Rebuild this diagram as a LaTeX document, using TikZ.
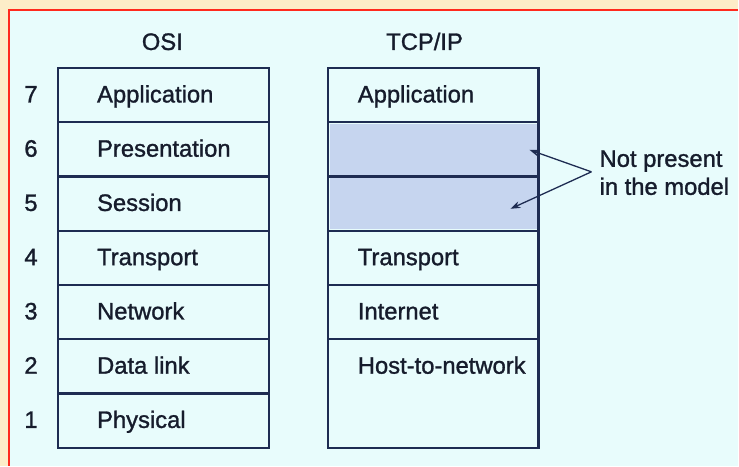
\documentclass[tikz,border=0pt]{standalone}
\usepackage{fontspec}
\setmainfont{Liberation Sans}
\newfontfamily\diagfont{Liberation Sans}[FakeBold=1.2]
\usetikzlibrary{calc,arrows.meta}
\definecolor{cream}{HTML}{FDEDC8}
\definecolor{panel}{HTML}{E8FCFC}
\definecolor{frame}{HTML}{FF2A1E}
\definecolor{ink}{HTML}{161C2C}
\definecolor{rule}{HTML}{1E2C52}
\definecolor{absent}{HTML}{C6D5EF}
\begin{document}
\begin{tikzpicture}[x=1pt,y=-1pt,
  cell/.style={draw=rule,line width=2.2pt,minimum width=211pt,minimum height=54.3pt,inner sep=0pt,anchor=north west},
  txt/.style={font=\diagfont\fontsize{23.8}{28}\selectfont,text=ink,inner sep=0pt},
  lbl/.style={txt,anchor=base west},
  pointer/.style={draw=rule,line width=1.3pt,-{Stealth[length=10pt,width=7pt]}}]
  % page and panel
  \fill[cream] (0,0) rectangle (739,466);
  \fill[panel] (9,10) rectangle (739,466);
  \draw[frame,line width=1.5pt] (9,466) -- (9,10) -- (739,10);
  \useasboundingbox (0,0) rectangle (739,466);

  % column titles
  \node[txt,anchor=base] (osititle) at (162.5,50) {OSI};
  \node[txt,anchor=base] (tcptitle) at (425,50) {TCP/IP};

  % OSI stack with layer numbers
  \foreach \n/\name [count=\i from 0] in {7/Application,6/Presentation,5/Session,4/Transport,3/Network,2/Data link,1/Physical}{
    \node[cell] (o\n) at (57,67+54.3*\i) {};
    \node[txt,anchor=base] (num\n) at (31,67+54.3*\i+27.15+8.4) {\n};
    \node[lbl] (ol\n) at (97,67+54.3*\i+27.15+8.4) {\name};
  }

  % TCP/IP stack
  \node[cell] (t7) at (327,67) {};
  \node[cell] (t6) at (327,121.3) {};
  \node[cell] (t5) at (327,175.6) {};
  \node[cell] (t4) at (327,229.9) {};
  \node[cell] (t3) at (327,284.2) {};
  \node[cell,minimum height=108.6pt] (t2) at (327,338.5) {};
  \fill[absent] ($(t6.north west)+(3,3)$) rectangle ($(t6.south east)+(-3,-3)$);
  \fill[absent] ($(t5.north west)+(3,3)$) rectangle ($(t5.south east)+(-3,-3)$);
  \node[lbl] (tl7) at (358,94.15+8.4) {Application};
  \node[lbl] (tl4) at (358,257.05+8.4) {Transport};
  \node[lbl] (tl3) at (358,311.35+8.4) {Internet};
  \node[lbl] (tl2) at (358,365.65+8.4) {Host-to-network};

  % note on the missing layers
  \node[txt,anchor=base west] (np1) at (600,167) {Not present};
  \node[txt,anchor=base west] (np2) at (600,195) {in the model};
  \coordinate (fork) at (592,172);
  \coordinate (in6) at (530,150);
  \coordinate (in5) at (511,209);
  \draw[pointer] (fork) -- (in6);
  \draw[pointer] (fork) -- (in5);
\end{tikzpicture}
\end{document}
